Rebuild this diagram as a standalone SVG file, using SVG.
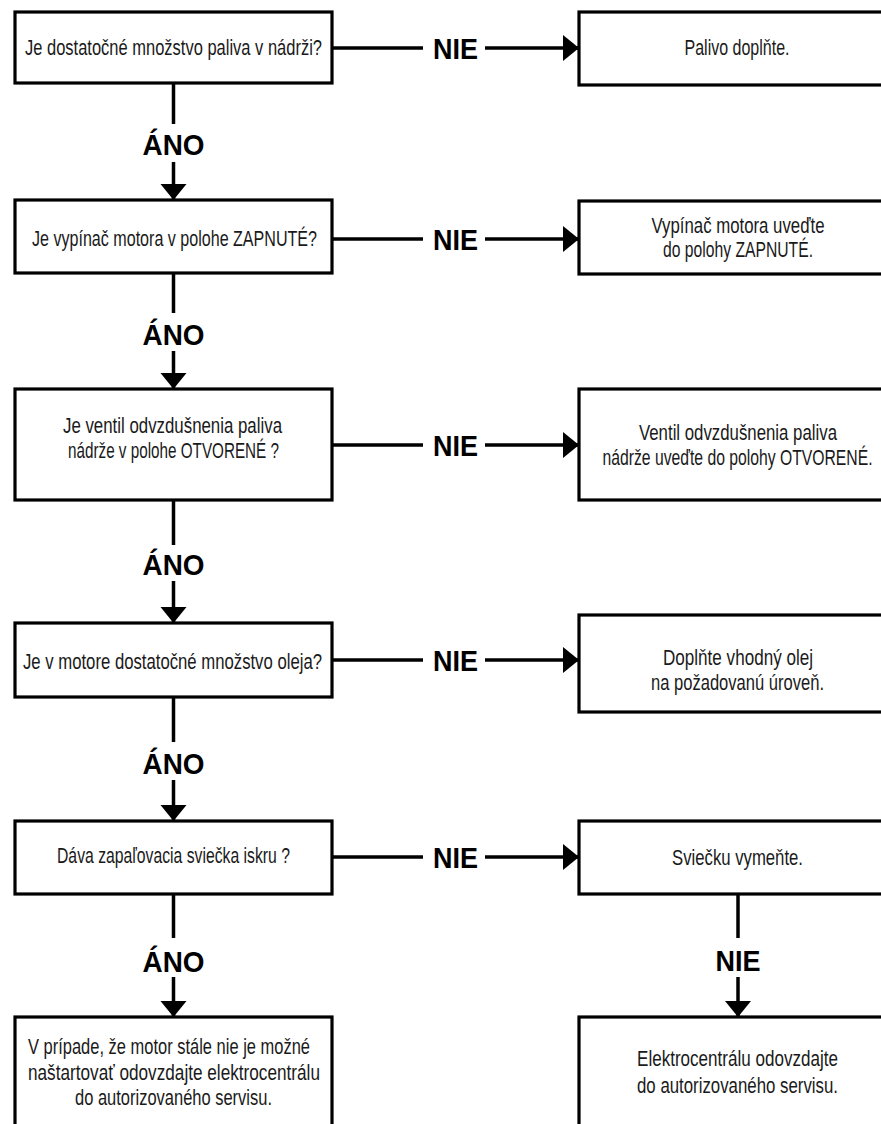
<svg xmlns="http://www.w3.org/2000/svg" width="881" height="1124" viewBox="0 0 881 1124">
<style>
.box{fill:#fff;stroke:#000;stroke-width:3.2}
.t{font-family:"Liberation Sans Narrow","Liberation Sans",Arial,sans-serif;font-size:21.5px;fill:#1a1a1a;text-anchor:middle}
.lbl{font-family:"Liberation Sans",Arial,sans-serif;font-weight:bold;font-size:30px;fill:#000;text-anchor:middle}
.c{stroke:#000;stroke-width:3.5;fill:none}
</style>
<defs>
<marker id="ah" markerUnits="userSpaceOnUse" markerWidth="17" markerHeight="28" refX="16" refY="13" orient="auto">
<path d="M0,0 L16,13 L0,26 Z" fill="#000"/>
</marker>
</defs>
<rect width="881" height="1124" fill="#fff"/>
<g id="connectors">
<line class="c" x1="332" y1="48" x2="423" y2="48"/><line class="c" x1="485" y1="48" x2="579" y2="48" marker-end="url(#ah)"/>
<line class="c" x1="332" y1="239" x2="423" y2="239"/><line class="c" x1="485" y1="239" x2="579" y2="239" marker-end="url(#ah)"/>
<line class="c" x1="332" y1="445" x2="423" y2="445"/><line class="c" x1="485" y1="445" x2="579" y2="445" marker-end="url(#ah)"/>
<line class="c" x1="332" y1="660" x2="423" y2="660"/><line class="c" x1="485" y1="660" x2="579" y2="660" marker-end="url(#ah)"/>
<line class="c" x1="332" y1="857" x2="423" y2="857"/><line class="c" x1="485" y1="857" x2="579" y2="857" marker-end="url(#ah)"/>
<line class="c" x1="173.5" y1="83" x2="173.5" y2="124"/><line class="c" x1="173.5" y1="162" x2="173.5" y2="200" marker-end="url(#ah)"/>
<line class="c" x1="173.5" y1="273" x2="173.5" y2="313"/><line class="c" x1="173.5" y1="351" x2="173.5" y2="389" marker-end="url(#ah)"/>
<line class="c" x1="173.5" y1="500" x2="173.5" y2="545"/><line class="c" x1="173.5" y1="581" x2="173.5" y2="623" marker-end="url(#ah)"/>
<line class="c" x1="173.5" y1="697" x2="173.5" y2="742"/><line class="c" x1="173.5" y1="780" x2="173.5" y2="821" marker-end="url(#ah)"/>
<line class="c" x1="173.5" y1="894" x2="173.5" y2="938"/><line class="c" x1="173.5" y1="977" x2="173.5" y2="1017" marker-end="url(#ah)"/>
<line class="c" x1="738" y1="894" x2="738" y2="938"/><line class="c" x1="738" y1="977" x2="738" y2="1017" marker-end="url(#ah)"/>
<text class="lbl" x="455.5" y="59" textLength="45" lengthAdjust="spacingAndGlyphs">NIE</text>
<text class="lbl" x="455.5" y="250" textLength="45" lengthAdjust="spacingAndGlyphs">NIE</text>
<text class="lbl" x="455.5" y="456" textLength="45" lengthAdjust="spacingAndGlyphs">NIE</text>
<text class="lbl" x="455.5" y="671" textLength="45" lengthAdjust="spacingAndGlyphs">NIE</text>
<text class="lbl" x="455.5" y="868" textLength="45" lengthAdjust="spacingAndGlyphs">NIE</text>
<text class="lbl" x="173.5" y="155" textLength="62" lengthAdjust="spacingAndGlyphs">ÁNO</text>
<text class="lbl" x="173.5" y="345" textLength="62" lengthAdjust="spacingAndGlyphs">ÁNO</text>
<text class="lbl" x="173.5" y="575" textLength="62" lengthAdjust="spacingAndGlyphs">ÁNO</text>
<text class="lbl" x="173.5" y="774" textLength="62" lengthAdjust="spacingAndGlyphs">ÁNO</text>
<text class="lbl" x="173.5" y="972" textLength="62" lengthAdjust="spacingAndGlyphs">ÁNO</text>
<text class="lbl" x="738" y="971" textLength="45" lengthAdjust="spacingAndGlyphs">NIE</text>
</g>
<g id="q1"><rect class="box" x="15" y="12" width="317" height="71"/><text class="t" x="173.5" y="55" textLength="297" lengthAdjust="spacingAndGlyphs">Je dostatočné množstvo paliva v nádrži?</text></g>
<g id="a1"><rect class="box" x="579" y="12" width="330" height="73"/><text class="t" x="737" y="55" textLength="105" lengthAdjust="spacingAndGlyphs">Palivo doplňte.</text></g>
<g id="q2"><rect class="box" x="15" y="200" width="317" height="73"/><text class="t" x="174.5" y="246" textLength="285" lengthAdjust="spacingAndGlyphs">Je vypínač motora v polohe ZAPNUTÉ?</text></g>
<g id="a2"><rect class="box" x="579" y="201" width="330" height="73"/><text class="t" x="738" y="233" textLength="173" lengthAdjust="spacingAndGlyphs">Vypínač motora uveďte</text><text class="t" x="738" y="257" textLength="150" lengthAdjust="spacingAndGlyphs">do polohy ZAPNUTÉ.</text></g>
<g id="q3"><rect class="box" x="15" y="389" width="317" height="111"/><text class="t" x="172.5" y="433" textLength="219" lengthAdjust="spacingAndGlyphs">Je ventil odvzdušnenia paliva</text><text class="t" x="173.5" y="458" textLength="211" lengthAdjust="spacingAndGlyphs">nádrže v polohe OTVORENÉ ?</text></g>
<g id="a3"><rect class="box" x="579" y="389" width="330" height="111"/><text class="t" x="738" y="440" textLength="198" lengthAdjust="spacingAndGlyphs">Ventil odvzdušnenia paliva</text><text class="t" x="737.5" y="465" textLength="270" lengthAdjust="spacingAndGlyphs">nádrže uveďte do polohy OTVORENÉ.</text></g>
<g id="q4"><rect class="box" x="15" y="623" width="317" height="74"/><text class="t" x="172.5" y="669" textLength="299" lengthAdjust="spacingAndGlyphs">Je v motore dostatočné množstvo oleja?</text></g>
<g id="a4"><rect class="box" x="579" y="615" width="330" height="97"/><text class="t" x="738" y="665" textLength="150" lengthAdjust="spacingAndGlyphs">Doplňte vhodný olej</text><text class="t" x="737.5" y="690" textLength="173" lengthAdjust="spacingAndGlyphs">na požadovanú úroveň.</text></g>
<g id="q5"><rect class="box" x="15" y="821" width="317" height="73"/><text class="t" x="173.5" y="863" textLength="233" lengthAdjust="spacingAndGlyphs">Dáva zapaľovacia sviečka iskru ?</text></g>
<g id="a5"><rect class="box" x="579" y="821" width="330" height="73"/><text class="t" x="737.5" y="865" textLength="131" lengthAdjust="spacingAndGlyphs">Sviečku vymeňte.</text></g>
<g id="q6"><rect class="box" x="15" y="1017" width="317" height="130"/><text class="t" x="169" y="1054" textLength="282" lengthAdjust="spacingAndGlyphs">V prípade, že motor stále nie je možné</text><text class="t" x="174" y="1080" textLength="292" lengthAdjust="spacingAndGlyphs">naštartovať odovzdajte elektrocentrálu</text><text class="t" x="173.5" y="1105" textLength="197" lengthAdjust="spacingAndGlyphs">do autorizovaného servisu.</text></g>
<g id="a6"><rect class="box" x="579" y="1017" width="330" height="130"/><text class="t" x="737.5" y="1066" textLength="201" lengthAdjust="spacingAndGlyphs">Elektrocentrálu odovzdajte</text><text class="t" x="737.5" y="1093" textLength="201" lengthAdjust="spacingAndGlyphs">do autorizovaného servisu.</text></g>
</svg>
